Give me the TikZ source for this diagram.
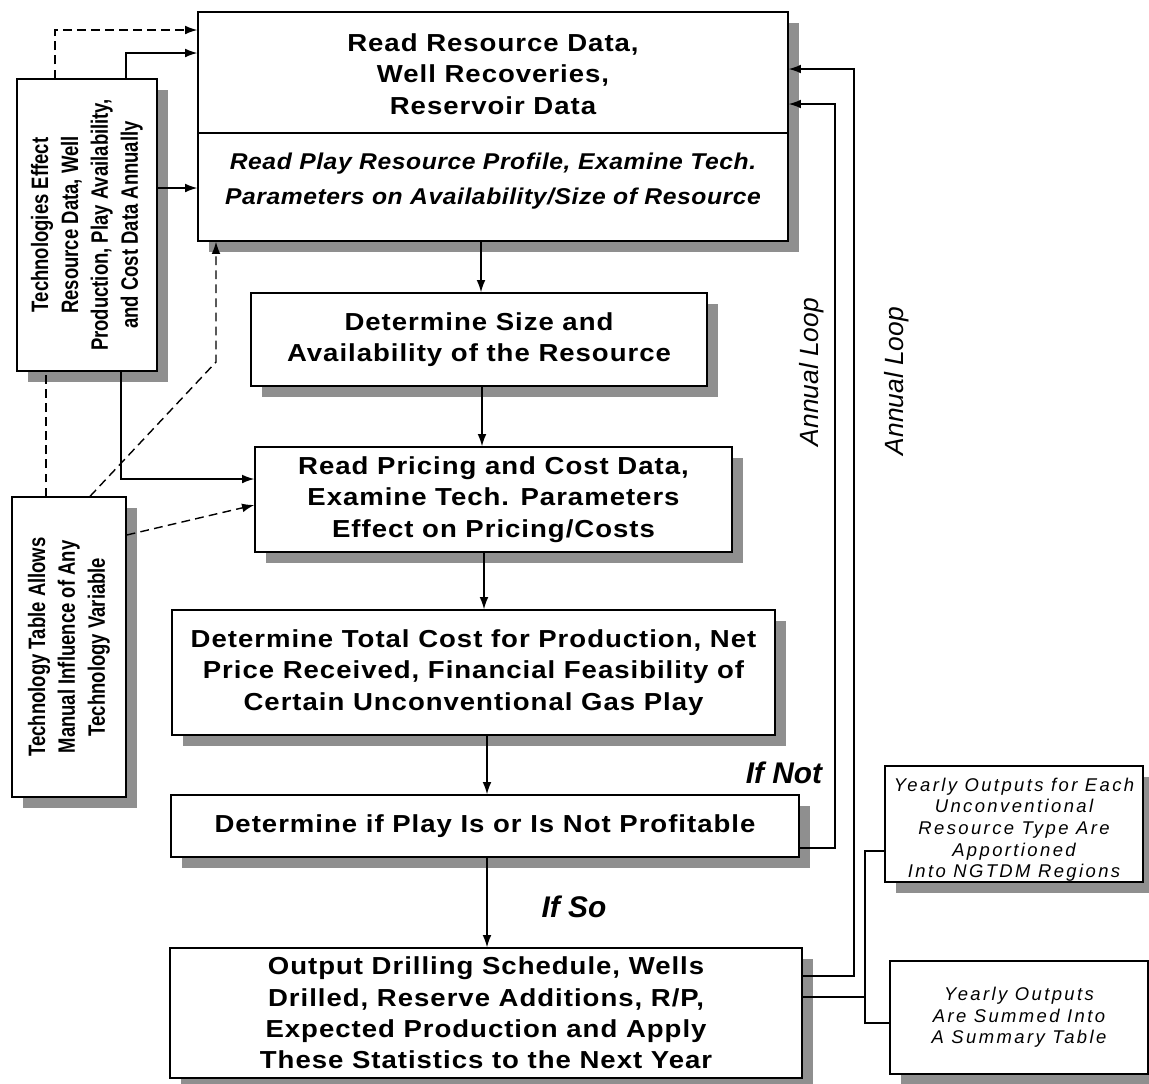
\documentclass[tikz,border=0pt]{standalone}
\usepackage{fontspec}
\setmainfont{Liberation Sans}
\newfontfamily\widefont[FakeStretch=1.12,LetterSpace=4]{Liberation Sans}
\newfontfamily\tiltfont[FakeStretch=1.08,LetterSpace=2.5]{Liberation Sans}
\newfontfamily\narrowfont[FakeStretch=0.78]{Liberation Sans}
\newfontfamily\sparsefont[LetterSpace=13]{Liberation Sans}
\usetikzlibrary{shadows,arrows.meta}
\definecolor{shade}{gray}{0.56}

\begin{document}
\begin{tikzpicture}[x=0.02cm,y=-0.02cm,line width=0.8pt,
	box/.style={draw,fill=white,align=center,inner sep=0pt,
		drop shadow={shadow xshift=0.22cm,shadow yshift=-0.22cm,fill=shade,opacity=1}},
	big/.style={font=\widefont\fontsize{14}{17.8}\selectfont\bfseries},
	tilt/.style={font=\tiltfont\fontsize{13}{20}\selectfont\bfseries\itshape},
	side/.style={font=\narrowfont\fontsize{13.5}{17}\selectfont\bfseries},
	small/.style={font=\sparsefont\fontsize{10.5}{12.3}\selectfont\itshape},
	tag/.style={font=\fontsize{17}{20}\selectfont\bfseries\itshape},
	loop/.style={font=\fontsize{15}{18}\selectfont\itshape,rotate=90},
	arr/.style={-{Latex[length=7pt,width=5pt]}},
	dashline/.style={dashed,dash pattern=on 5pt off 3pt}]
	\useasboundingbox (0,0) rectangle (1149,1083);

	\node[box,minimum width=11.8cm,minimum height=4.58cm] (T) at (493,126.5) {};
	\draw (T.west |- 0,133) -- (T.east |- 0,133);
	\node[big,align=center] (Ta) at (493,74) {Read Resource Data,\\Well Recoveries,\\Reservoir Data};
	\node[tilt,align=center] (Tb) at (493,181) {Read Play Resource Profile, Examine Tech.\\Parameters on Availability/Size of Resource};

	\node[box,side,minimum width=2.8cm,minimum height=5.84cm] (L1) at (87,225)
		{\rotatebox{90}{\begin{tabular}{@{}c@{}}Technologies Effect\\Resource Data, Well\\Production, Play Availability,\\and Cost Data Annually\end{tabular}}};
	\node[box,side,minimum width=2.28cm,minimum height=6cm] (L2) at (69,647)
		{\rotatebox{90}{\begin{tabular}{@{}c@{}}Technology Table Allows\\Manual Influence of Any\\Technology Variable\end{tabular}}};

	\node[box,big,minimum width=9.12cm,minimum height=1.86cm] (S) at (479,339.5) {Determine Size and\\Availability of the Resource};
	\node[box,big,minimum width=9.54cm,minimum height=2.1cm] (P) at (493.5,499.5) {Read Pricing and Cost Data,\\Examine Tech. Parameters\\Effect on Pricing/Costs};
	\node[box,big,minimum width=12.06cm,minimum height=2.5cm] (C) at (473.5,672.5) {Determine Total Cost for Production, Net\\Price Received, Financial Feasibility of\\Certain Unconventional Gas Play};
	\node[box,big,minimum width=12.56cm,minimum height=1.24cm] (D) at (485,826) {Determine if Play Is or Is Not Profitable};
	\node[box,big,minimum width=12.64cm,minimum height=2.6cm] (O) at (486,1013) {Output Drilling Schedule, Wells\\Drilled, Reserve Additions, R/P,\\Expected Production and Apply\\These Statistics to the Next Year};

	\node[box,small,minimum width=5.16cm,minimum height=2.32cm] (R1) at (1014,824) {\rule{0pt}{14pt}Yearly Outputs for Each\\Unconventional\\Resource Type Are\\Apportioned\\Into NGTDM Regions};
	\node[box,small,minimum width=5.16cm,minimum height=2.26cm] (R2) at (1019,1017.5) {Yearly Outputs\\Are Summed Into\\A Summary Table};

	\draw[arr] (T.south -| 481,0) -- (S.north -| 481,0);
	\draw[arr] (S.south -| 482,0) -- (P.north -| 482,0);
	\draw[arr] (P.south -| 484,0) -- (C.north -| 484,0);
	\draw[arr] (C.south -| 487,0) -- (D.north -| 487,0);
	\draw[arr] (D.south -| 487,0) -- (O.north -| 487,0);

	\coordinate (a) at (835,848);
	\coordinate (b) at (854,976);
	\draw[arr] (D.east |- a) -- (a) -- (a |- 0,104) -- (T.east |- 0,104);
	\draw[arr] (O.east |- b) -- (b) -- (b |- 0,69) -- (T.east |- 0,69);

	\coordinate (c) at (865,997);
	\draw (O.east |- c) -- (c);
	\draw (R1.west |- 0,851) -- (865,851) -- (865,1023) -- (R2.west |- 0,1023);

	\draw[arr,dashline] (L1.north -| 55,0) -- (55,30) -- (T.west |- 0,30);
	\draw[arr] (L1.north -| 126,0) -- (126,53) -- (T.west |- 0,53);
	\draw[arr] (L1.east |- 0,188) -- (T.west |- 0,188);
	\draw[arr] (L1.south -| 121,0) -- (121,479) -- (P.west |- 0,479);

	\draw[dashline] (L2.north -| 46,0) -- (L1.south -| 46,0);
	\draw[arr,dashline] (L2.north -| 90,0) -- (216,362) -- (T.south -| 216,0);
	\draw[arr,dashline] (L2.east |- 0,535) -- (P.west |- 0,505);

	\node[tag] (n) at (784,773) {If Not};
	\node[tag] (s) at (574,907) {If So};
	\node[loop] (l1) at (812,372) {Annual Loop};
	\node[loop] (l2) at (897,381) {Annual Loop};
\end{tikzpicture}
\end{document}
